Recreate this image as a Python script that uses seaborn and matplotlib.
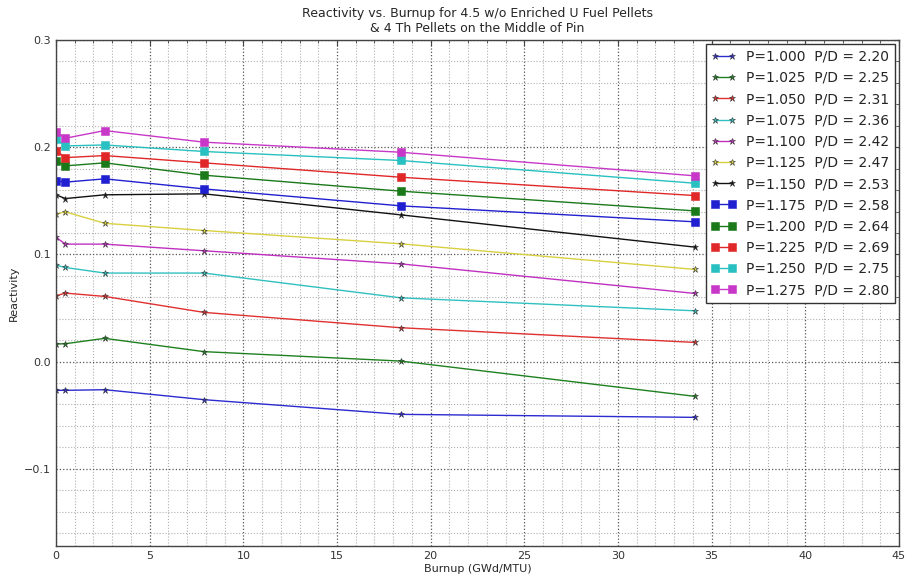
import matplotlib
matplotlib.use("Agg")
import matplotlib.pyplot as plt
from matplotlib.ticker import MultipleLocator, FuncFormatter
import seaborn as sns
import pandas as pd

burnup = [0.0, 0.5, 2.6, 7.9, 18.4, 34.1]

labels = [
    "P=1.000  P/D = 2.20", "P=1.025  P/D = 2.25", "P=1.050  P/D = 2.31",
    "P=1.075  P/D = 2.36", "P=1.100  P/D = 2.42", "P=1.125  P/D = 2.47",
    "P=1.150  P/D = 2.53", "P=1.175  P/D = 2.58", "P=1.200  P/D = 2.64",
    "P=1.225  P/D = 2.69", "P=1.250  P/D = 2.75", "P=1.275  P/D = 2.80",
]

r_1000 = [-0.0268, -0.0268, -0.0262, -0.0355, -0.0492, -0.0520]
r_1025 = [0.0164, 0.0167, 0.0217, 0.0093, 0.0005, -0.0324]
r_1050 = [0.0614, 0.0639, 0.0608, 0.0459, 0.0316, 0.0179]
r_1075 = [0.0900, 0.0878, 0.0826, 0.0826, 0.0595, 0.0474]
r_1100 = [0.1160, 0.1096, 0.1096, 0.1034, 0.0912, 0.0636]
r_1125 = [0.1375, 0.1397, 0.1290, 0.1223, 0.1099, 0.0860]
r_1150 = [0.1556, 0.1521, 0.1556, 0.1565, 0.1369, 0.1068]
r_1175 = [0.1686, 0.1674, 0.1705, 0.1611, 0.1453, 0.1304]
r_1200 = [0.1872, 0.1826, 0.1854, 0.1739, 0.1590, 0.1406]
r_1225 = [0.1969, 0.1903, 0.1922, 0.1854, 0.1720, 0.1549]
r_1250 = [0.2075, 0.2012, 0.2021, 0.1960, 0.1876, 0.1664]
r_1275 = [0.2145, 0.2084, 0.2155, 0.2047, 0.1953, 0.1733]

series = [r_1000, r_1025, r_1050, r_1075, r_1100, r_1125, r_1150,
          r_1175, r_1200, r_1225, r_1250, r_1275]
colors = ["#2b2bd0", "#1f801f", "#e03030", "#30c0c0", "#c030c0", "#d8d040", "#111111",
          "#2020d0", "#1a7a1a", "#e02828", "#28c0c0", "#c838c8"]
markers = ["*"] * 7 + ["s"] * 5

sns.set_style("white")
plt.rcParams["font.family"] = ["DejaVu Sans"]

fig = plt.figure(figsize=(9.09, 5.82), dpi=100)
ax = fig.add_axes([56 / 909, 36 / 582, 843 / 909, 506 / 582])

for lab, vals, c, m in zip(labels, series, colors, markers):
    df = pd.DataFrame({"Burnup": burnup, "Reactivity": vals})
    ms = 5 if m == "*" else 6
    sns.lineplot(data=df, x="Burnup", y="Reactivity", ax=ax, color=c,
                 marker=m, markersize=ms, markeredgecolor=c if m == "s" else "#333333",
                 markeredgewidth=0.4, linewidth=1.0, label=lab)

ax.set_xlim(0, 45)
ax.set_ylim(-0.172, 0.3)
ax.xaxis.set_major_locator(MultipleLocator(5))
ax.xaxis.set_minor_locator(MultipleLocator(1))
ax.yaxis.set_major_locator(MultipleLocator(0.1))
ax.yaxis.set_minor_locator(MultipleLocator(0.02))
ax.yaxis.set_major_formatter(FuncFormatter(lambda v, p: ("%.1f" % v).replace("-", "\u2212")))
ax.grid(which="major", linestyle=":", color="#555555", linewidth=0.9)
ax.grid(which="minor", linestyle=":", color="#b0b0b0", linewidth=0.8)
ax.set_axisbelow(True)
for sp in ax.spines.values():
    sp.set_color("#444444")
    sp.set_linewidth(1.0)

ax.tick_params(axis="both", which="both", direction="in", top=True, right=True,
               labelsize=8, labelcolor="#333333", color="#444444")
ax.tick_params(which="major", length=4)
ax.tick_params(which="minor", length=2)
ax.set_xlabel("Burnup (GWd/MTU)", fontsize=8, labelpad=2)
ax.set_ylabel("Reactivity", fontsize=8, labelpad=4)
ax.set_title("Reactivity vs. Burnup for 4.5 w/o Enriched U Fuel Pellets\n& 4 Th Pellets on the Middle of Pin",
             fontsize=9, pad=6)

leg = ax.legend(loc="upper right", fontsize=10, frameon=True, fancybox=False,
                edgecolor="#333333", framealpha=1, labelspacing=0.52,
                handlelength=1.8, handletextpad=0.7, borderaxespad=0.3, numpoints=2)
leg.get_frame().set_linewidth(1.0)

fig.savefig("out.png", dpi=100)
